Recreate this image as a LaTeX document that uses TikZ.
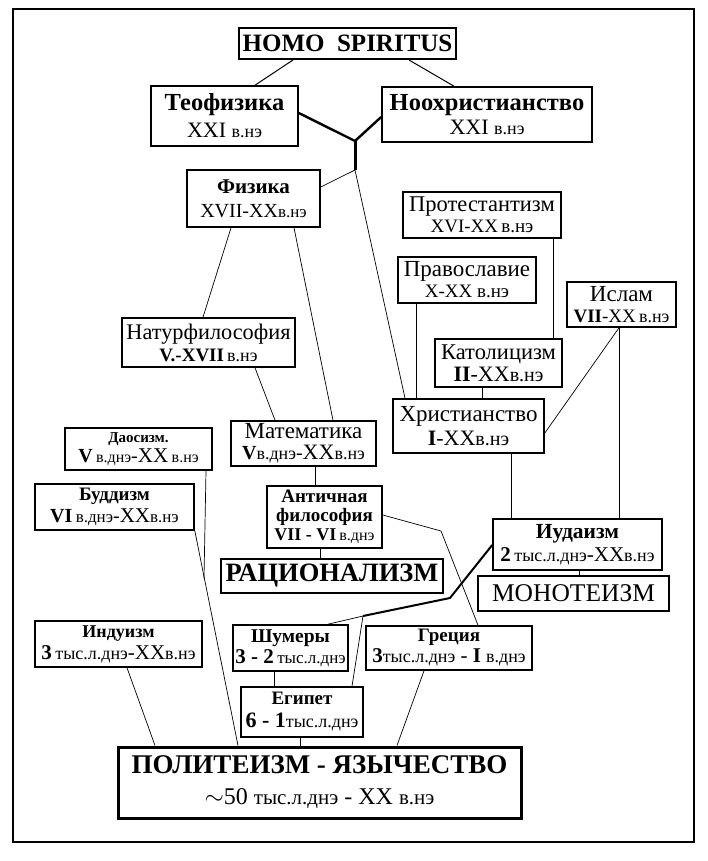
\documentclass[tikz,border=0pt]{standalone}
\usepackage{fontspec}
\setmainfont{Liberation Serif}
\usetikzlibrary{positioning}
\newcommand{\fsz}[2]{\fontsize{#1}{#2}\selectfont}
\newcommand{\melk}[2][17]{{\fontsize{#1}{#1}\selectfont #2}}

\begin{document}
\begin{tikzpicture}[x=1pt, y=-1pt,
    box/.style = {draw, line width=1.6pt, inner sep=0pt, align=center},
    link/.style = {line width=0.7pt},
    fat link/.style = {line width=2.4pt, line join=round}]
    % Рамка
    \useasboundingbox (0,0) rectangle (708,861);
    \draw[line width=2pt] (13,9) rectangle (694,842);
    % Верхний уровень
    \node[box, line width=2pt, minimum width=217pt, minimum height=31pt, font=\fsz{25}{28}\bfseries] (homo) at (347.5,43.5) {HOMO\ \ SPIRITUS};
    \node[box, minimum width=147pt, minimum height=60pt, font=\fsz{24.5}{27}] (teo) at (224.5,116) {\textbf{Теофизика}\\ \fsz{22}{27}XXI \melk[18]{в.нэ}};
    \node[box, minimum width=210pt, minimum height=55pt, font=\fsz{24.5}{24}] (noo) at (487,114.5) {\textbf{Ноохристианство}\\ \fsz{22}{24}XXI \melk[18]{в.нэ}};
    % Наука
    \node[box, minimum width=133pt, minimum height=57pt, font=\fsz{21}{24}] (fiz) at (253.5,198.5) {\textbf{Физика}\\ \fsz{20}{24}XVII-XX\melk{в.нэ}};
    \node[box, minimum width=173pt, minimum height=49pt, font=\fsz{22.3}{22}] (natur) at (208.5,342.5) {Натурфилософия\\ \fsz{19}{22}\textbf{V.-XVII}\,\melk[18]{в.нэ}};
    \node[box, minimum width=145pt, minimum height=45pt, font=\fsz{23}{21}] (mat) at (303.5,443.5) {Математика\\ \fsz{20}{21}\textbf{V}\melk[18]{в.днэ}-\fsz{22}{21}XX\melk[18]{в.нэ}};
    \node[box, minimum width=115pt, minimum height=62pt, font=\fsz{19}{19}] (ant) at (324.5,517) {\textbf{Античная}\\ \textbf{философия}\\ \fsz{18}{19}\textbf{VII - VI}\,\melk[16]{в.днэ}};
    \node[box, minimum width=222pt, minimum height=34pt, font=\fsz{26.5}{28}\bfseries] (rac) at (332,576) {РАЦИОНАЛИЗМ};
    % Христианство
    \node[box, minimum width=158pt, minimum height=46pt, font=\fsz{22.5}{21}] (prot) at (482,215) {Протестантизм\\ \fsz{19}{21}XVI-XX\,\melk[19]{в.нэ}};
    \node[box, minimum width=138pt, minimum height=46pt, font=\fsz{23}{21}] (prav) at (467,280) {Православие\\ \fsz{19}{21}X-XX \melk[19]{в.нэ}};
    \node[box, minimum width=109pt, minimum height=45pt, font=\fsz{23}{21}] (islam) at (621.5,304.5) {Ислам\\ \fsz{19}{21}\textbf{VII}-XX\,\melk[18]{в.нэ}};
    \node[box, minimum width=127pt, minimum height=48pt, font=\fsz{22.5}{22}] (katol) at (498.5,363) {Католицизм\\ \fsz{22}{22}\textbf{II}-XX\melk[20]{в.нэ}};
    \node[box, minimum width=151pt, minimum height=54pt, font=\fsz{23}{24}] (hrist) at (468.5,426) {Христианство\\ \fsz{22}{24}\textbf{I}-XX\melk[20]{в.нэ}};
    \node[box, minimum width=169pt, minimum height=51pt, font=\fsz{21.5}{23}] (iud) at (577.5,544.5) {\textbf{Иудаизм}\\ \fsz{21}{23}\textbf{2}\,\melk[18]{тыс.л.днэ}-XX\melk[18]{в.нэ}};
    \node[box, minimum width=191pt, minimum height=35pt, font=\fsz{25.5}{28}] (mono) at (573.5,593.5) {МОНОТЕИЗМ};
    % Восток
    \node[box, minimum width=147pt, minimum height=42pt, font=\fsz{15}{20}] (dao) at (138.5,449) {\textbf{Даосизм.}\\ \fsz{20}{20}\textbf{V}\,\melk[16]{в.днэ}-\fsz{21}{20}XX\,\melk[16]{в.нэ}};
    \node[box, minimum width=159pt, minimum height=46pt, font=\fsz{19}{22}] (budd) at (114.5,507) {\textbf{Буддизм}\\ \fsz{20}{22}\textbf{VI}\,\melk{в.днэ}-\fsz{21}{22}XX\melk{в.нэ}};
    \node[box, minimum width=167pt, minimum height=46pt, font=\fsz{18}{22}] (ind) at (118.5,644) {\textbf{Индуизм}\\ \fsz{21}{22}\textbf{3}\,\melk[18]{тыс.л.днэ}-XX\melk[18]{в.нэ}};
    % Древний мир
    \node[box, minimum width=115pt, minimum height=46pt, font=\fsz{19.5}{21}] (shum) at (290.5,648) {\textbf{Шумеры}\\ \fsz{21}{21}\textbf{3 - 2}\,\melk{тыс.л.днэ}};
    \node[box, minimum width=166pt, minimum height=44pt, font=\fsz{19}{21}] (grec) at (449,648) {\textbf{Греция}\\ \fsz{21}{21}\textbf{3}\melk[18]{тыс.л.днэ} - \textbf{I} \melk[18]{в.днэ}};
    \node[box, minimum width=122pt, minimum height=50pt, font=\fsz{19}{23}] (egip) at (302,712) {\textbf{Египет}\\ \fsz{22}{23}\textbf{6 - 1}\melk[18]{тыс.л.днэ}};
    \node[box, line width=3pt, minimum width=403pt, minimum height=71pt, font=\fsz{27}{31}] (poli) at (319.5,782.5) {\textbf{ПОЛИТЕИЗМ - ЯЗЫЧЕСТВО}\\ \fsz{24}{31}$\sim$50 \melk[21]{тыс.л.днэ} - XX \melk[21]{в.нэ}};
    % Развилка под HOMO SPIRITUS
    \coordinate (fork) at (355,141);
    \coordinate (forkend) at (355,170);
    \draw[link, line width=1pt] ([xshift=-54.5pt]homo.south) -- ([xshift=30.5pt]teo.north);
    \draw[link, line width=1pt] ([xshift=61.5pt]homo.south) -- ([xshift=-33pt]noo.north);
    \draw[fat link] ([yshift=3pt]teo.east) -- (fork) -- ([yshift=-2.5pt]noo.west);
    \draw[fat link, line width=3pt] (fork) -- (forkend);
    \draw[link] (forkend) -- ([yshift=11.5pt]fiz.east);
    \draw[link] (forkend) -- ([xshift=-63.5pt]hrist.north);
    % Наука
    \draw[link] ([xshift=-22.5pt]fiz.south) -- ([xshift=-5.5pt]natur.north);
    \draw[link] ([xshift=40.5pt]fiz.south) -- ([xshift=29.5pt]mat.north);
    \draw[link] ([xshift=46.5pt]natur.south) -- ([xshift=-28.5pt]mat.north);
    \draw[link] ([xshift=11.5pt]mat.south) -- ([xshift=-9.5pt]ant.north);
    \draw[link] ([xshift=-4.5pt]ant.south) -- ([xshift=-12pt]rac.north);
    \coordinate (antbend) at (441,531);
    \draw[link] ([yshift=2pt]ant.east) -- (antbend) -- ([xshift=29pt]grec.north);
    % Христианство и ислам
    \draw[link] ([xshift=71pt]prot.south) -- ([xshift=54.5pt]katol.north);
    \draw[link] ([xshift=-51pt]prav.south) -- ([xshift=-52.5pt]hrist.north);
    \draw[link] ([xshift=-16.5pt]katol.south) -- ([xshift=13.5pt]hrist.north);
    \draw[link] ([yshift=-7pt]hrist.east) -- ([xshift=-2.5pt]islam.south);
    \draw[link] ([xshift=-2.5pt]islam.south) -- ([xshift=41.5pt]iud.north);
    \draw[link] ([xshift=42.5pt]hrist.south) -- ([xshift=-66.5pt]iud.north);
    \draw[link] ([xshift=1.5pt]iud.south) -- ([xshift=5.5pt]mono.north);
    % Иудаизм -> Шумеры, Египет
    \coordinate (iudbend) at (450,598);
    \coordinate (iudfork) at (363,616);
    \draw[fat link, line width=2pt] ([yshift=-0.5pt]iud.west) -- (iudbend) -- (iudfork);
    \draw[link] (iudfork) -- ([xshift=37.5pt]shum.north);
    \draw[link] (iudfork) -- ([xshift=50pt]egip.north);
    % К политеизму
    \draw[link] ([xshift=-16.5pt]shum.south) -- ([xshift=-28pt]egip.north);
    \draw[link] ([xshift=-2pt]egip.south) -- ([xshift=-19.5pt]poli.north);
    \draw[link] ([xshift=-25pt]grec.south) -- ([xshift=77.5pt]poli.north);
    \draw[link] ([xshift=8.5pt]ind.south) -- ([xshift=-164.5pt]poli.north);
    \coordinate (daojoin) at (204,578);
    \draw[link] (budd.south east) -- ([xshift=-81.5pt]poli.north);
    \draw[link] ([xshift=67.5pt]dao.south) -- (daojoin);
\end{tikzpicture}
\end{document}
